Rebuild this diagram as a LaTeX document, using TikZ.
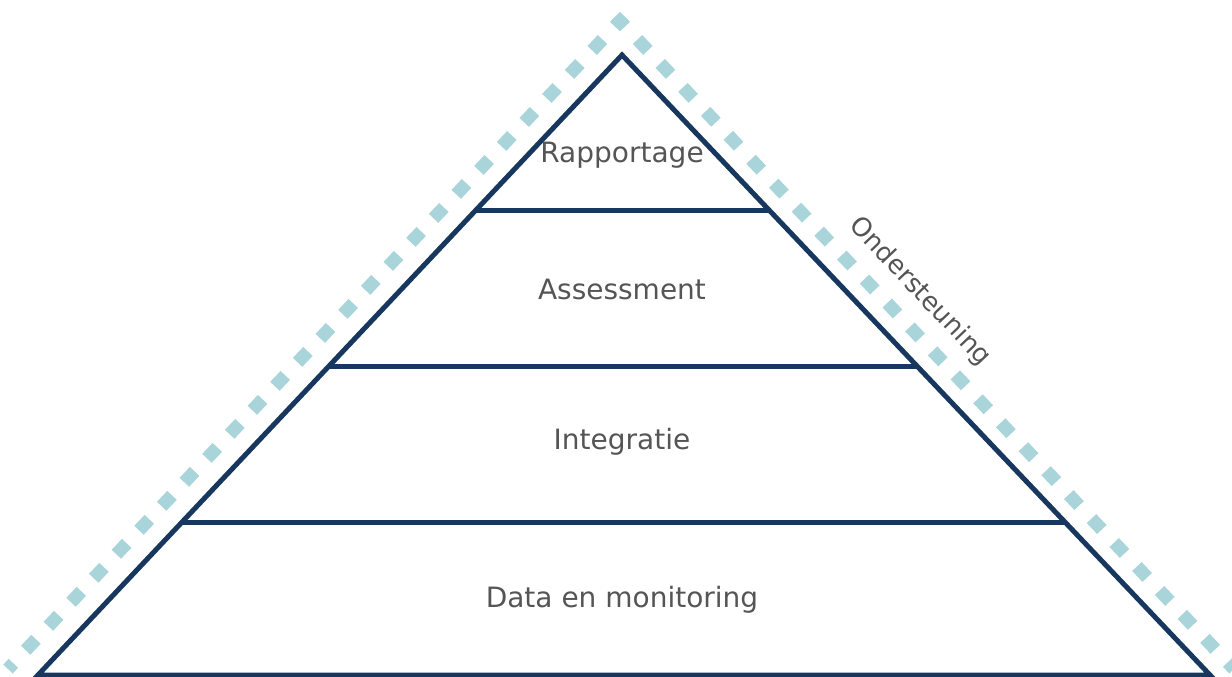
\documentclass[tikz,border=0pt]{standalone}
\usepackage{fontspec}
\setmainfont{DejaVu Sans}
\usepackage{tikz}
\definecolor{navy}{HTML}{17375E}
\definecolor{teal}{HTML}{A8D4DA}
\definecolor{textgray}{HTML}{555555}
\def\fsize{28}

\begin{document}
\begin{tikzpicture}[x=1pt, y=-1pt,
    edge/.style={line width=5pt, navy},
    support/.style={line width=13pt, teal, dash pattern=on 15pt off 18pt, dash phase=7.5pt},
    layer/.style={text=textgray, font=\fontsize{\fsize}{\fsize}\selectfont}]
    \useasboundingbox (0,0) rectangle (1232,677);
    % Support line.
    \coordinate (top) at (620, 21);
    \coordinate (sleft) at (8, 669);
    \coordinate (sright) at (1234, 669);
    \draw[support] (top) -- (sleft);
    \draw[support] (top) -- (sright);
    \node[fill=teal, minimum size=13pt, inner sep=0pt, rotate=45] (topmark) at (top) {};
    % Layers.
    \coordinate (apex) at (622, 55);
    \coordinate (l1) at (477, 210);  \coordinate (r1) at (769, 210);
    \coordinate (l2) at (329, 366);  \coordinate (r2) at (917, 366);
    \coordinate (l3) at (183, 522);  \coordinate (r3) at (1064, 522);
    \coordinate (bl) at (38, 675);   \coordinate (br) at (1210, 675);
    \draw[edge, line join=miter] (bl) -- (apex) -- (br) -- cycle;
    \draw[edge] (l1) -- (r1);
    \draw[edge] (l2) -- (r2);
    \draw[edge] (l3) -- (r3);
    % Labels.
    \node[layer] (rapportage) at (622, 155) {Rapportage};
    \node[layer] (assessment) at (622, 289) {Assessment};
    \node[layer] (integratie) at (622, 442) {Integratie};
    \node[layer] (data) at (622, 600) {Data en monitoring};
    \node[layer, font=\fontsize{26}{26}\selectfont, rotate=-46.5] (ondersteuning) at (920, 292) {Ondersteuning};
\end{tikzpicture}
\end{document}
